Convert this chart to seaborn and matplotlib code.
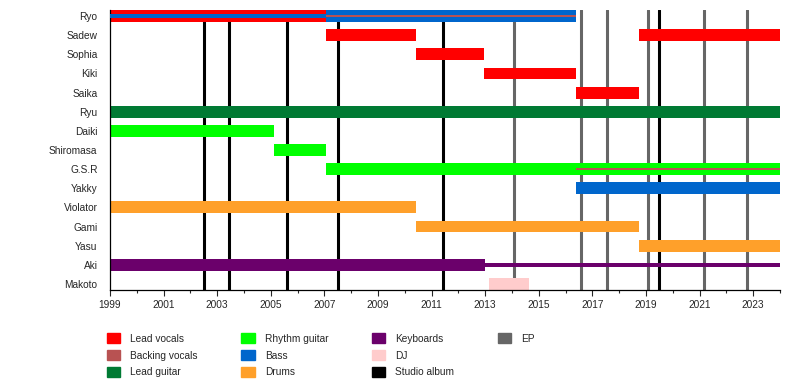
import matplotlib
matplotlib.use("Agg")
import matplotlib.pyplot as plt
from matplotlib.patches import Patch
import pandas as pd
import seaborn as sns

members = ["Ryo", "Sadew", "Sophia", "Kiki", "Saika", "Ryu", "Daiki", "Shiromasa",
           "G.S.R", "Yakky", "Violator", "Gami", "Yasu", "Aki", "Makoto"]

roles = ["Lead vocals", "Backing vocals", "Lead guitar", "Rhythm guitar",
         "Bass", "Drums", "Keyboards", "DJ"]
role_colors = ["#ff0000", "#b85252", "#007a33", "#00ff00",
               "#0066cc", "#ffa02a", "#6b006b", "#ffcccc"]

# main membership spells
spell_member = ["Ryo", "Ryo", "Sadew", "Sadew", "Sophia", "Kiki", "Saika", "Ryu",
                "Daiki", "Shiromasa", "G.S.R", "Yakky", "Violator", "Gami", "Yasu",
                "Aki", "Makoto"]
spell_role = ["Lead vocals", "Bass", "Lead vocals", "Lead vocals", "Lead vocals",
              "Lead vocals", "Lead vocals", "Lead guitar", "Rhythm guitar",
              "Rhythm guitar", "Rhythm guitar", "Bass", "Drums", "Drums", "Drums",
              "Keyboards", "DJ"]
spell_start = [1999.0, 2007.06, 2007.06, 2018.75, 2010.42, 2012.96, 2016.4, 1999.0,
               1999.0, 2005.12, 2007.06, 2016.4, 1999.0, 2010.42, 2018.75,
               1999.0, 2013.14]
spell_end = [2007.06, 2016.4, 2010.42, 2024.0, 2012.96, 2016.4, 2018.75, 2024.0,
             2005.12, 2007.06, 2024.0, 2024.0, 2010.42, 2018.75, 2024.0,
             2012.98, 2014.63]

# secondary roles, drawn as thin stripes
stripe_member = ["Ryo", "Ryo", "G.S.R", "Aki"]
stripe_role = ["Bass", "Backing vocals", "Backing vocals", "Keyboards"]
stripe_start = [1999.0, 2007.06, 2016.4, 2012.98]
stripe_end = [2007.06, 2016.4, 2024.0, 2024.0]

studio_albums = [2002.51, 2003.44, 2005.6, 2007.51, 2011.43, 2019.49]
eps = [2014.07, 2016.57, 2017.54, 2019.07, 2021.16, 2022.77]

sns.set_theme(style="ticks")
plt.rcParams["font.family"] = ["Liberation Sans", "DejaVu Sans"]

spells = pd.DataFrame({"member": spell_member, "role": spell_role,
                       "start": spell_start, "end": spell_end})
stripes = pd.DataFrame({"member": stripe_member, "role": stripe_role,
                        "start": stripe_start, "end": stripe_end})
palette = dict(zip(roles, role_colors))
row = {m: i for i, m in enumerate(members)}

fig = plt.figure(figsize=(8, 3.8), dpi=100)
ax = fig.add_axes([110 / 800, 90 / 380, 670 / 800, 280 / 380])

for x in studio_albums:
    ax.axvline(x, color="black", lw=2.2, zorder=1)
for x in eps:
    ax.axvline(x, color="#666666", lw=2.2, zorder=1)

for _, r in spells.iterrows():
    ax.barh(row[r["member"]], r["end"] - r["start"], left=r["start"], height=0.62,
            color=palette[r["role"]], lw=0, zorder=2)
for _, r in stripes.iterrows():
    h = 0.13 if r["role"] == "Backing vocals" else 0.2
    ax.barh(row[r["member"]], r["end"] - r["start"], left=r["start"], height=h,
            color=palette[r["role"]], lw=0, zorder=3)

ax.set_xlim(1999, 2024)
ax.set_ylim(14.32, -0.32)
ax.set_yticks(range(len(members)))
ax.set_yticklabels(members, fontsize=7.3)
ax.tick_params(axis="y", length=0, pad=9)
ax.set_xticks(range(1999, 2024, 2))
ax.set_xticks(range(1999, 2025), minor=True)
ax.tick_params(axis="x", which="major", length=4, width=0.8, labelsize=7.3, pad=3)
ax.tick_params(axis="x", which="minor", length=2.5, width=0.8)
sns.despine(ax=ax)
for s in ["left", "bottom"]:
    ax.spines[s].set_color("black")
    ax.spines[s].set_linewidth(0.9)

legend_labels = roles + ["Studio album", "EP"]
legend_colors = role_colors + ["black", "#666666"]
handles = [Patch(color=c) for c in legend_colors]
handles += [Patch(color="none"), Patch(color="none")]
legend_labels += ["", ""]
fig.legend(handles, legend_labels, loc="upper left", bbox_to_anchor=(107 / 800, 1 - 333 / 380),
           ncol=4, frameon=False, fontsize=7.3, handlelength=1.3, handleheight=1.2,
           handletextpad=1.0, columnspacing=4.3, labelspacing=0.62, borderpad=0,
           borderaxespad=0)

fig.savefig("out.png", dpi=100)
